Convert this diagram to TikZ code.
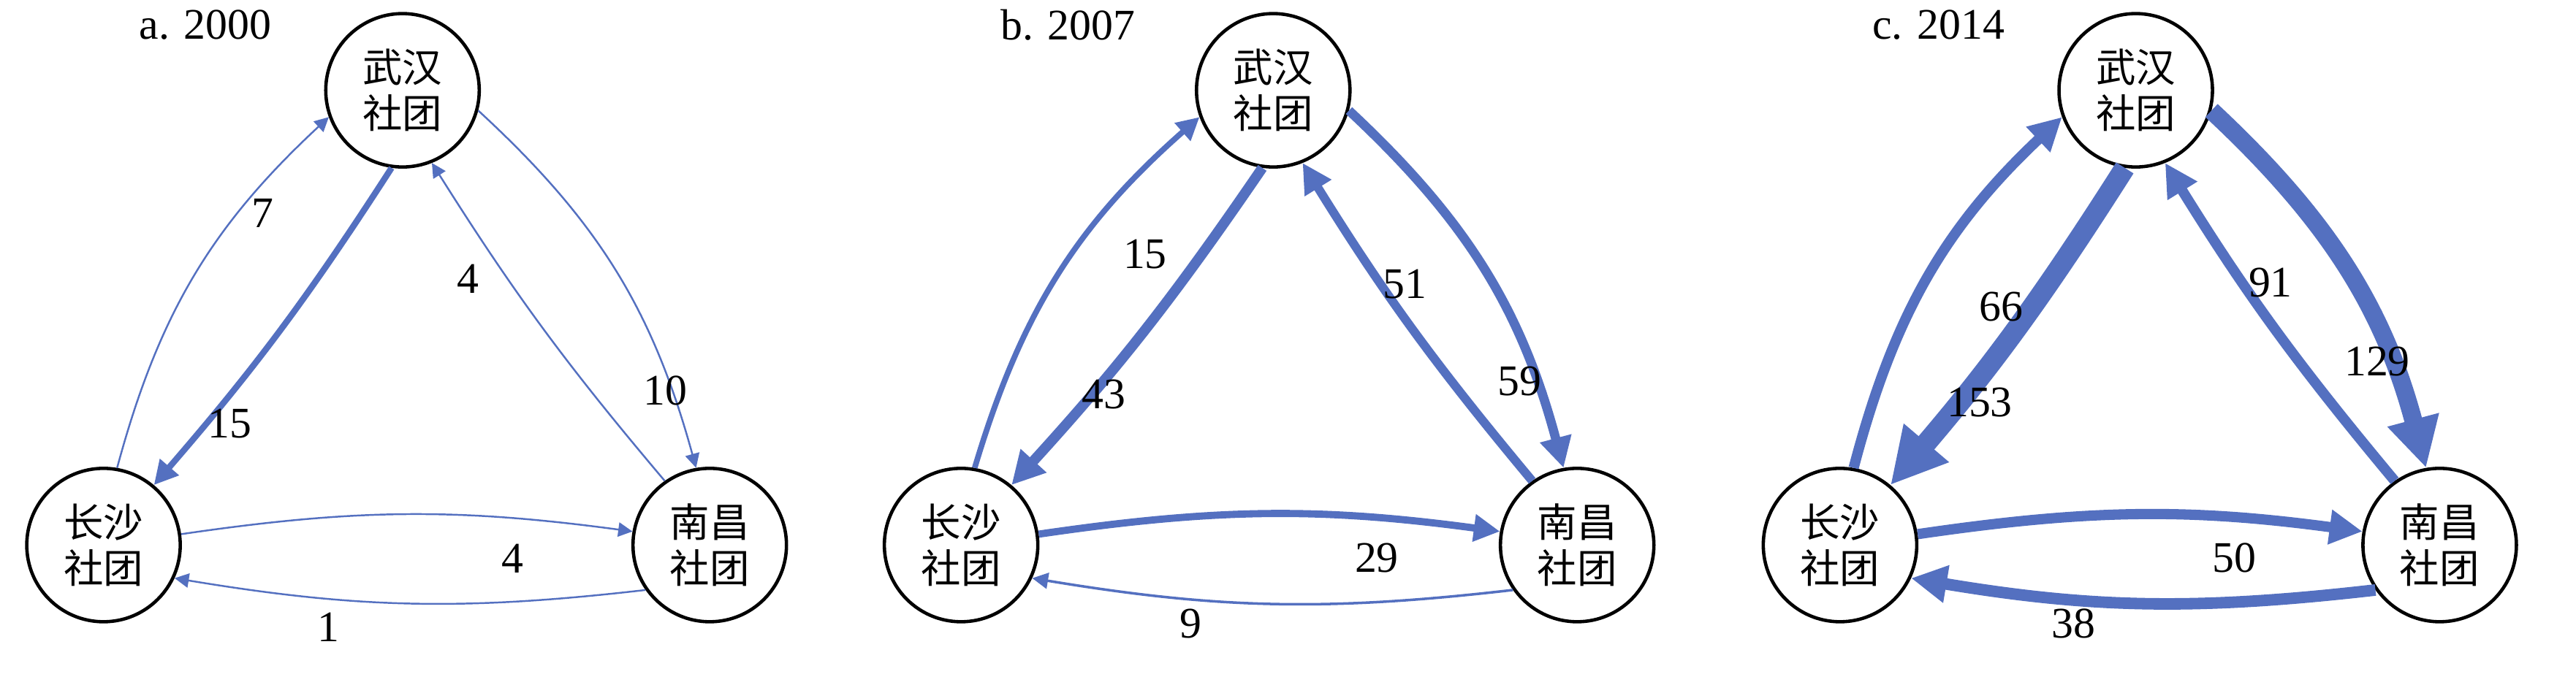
\documentclass[tikz,border=0pt]{standalone}
\usepackage{fontspec}
\setmainfont{Liberation Serif}
\newfontfamily\cjk{Noto Sans CJK SC}
\usetikzlibrary{arrows.meta}
\definecolor{eb}{HTML}{5470C0}
\begin{document}
\begin{tikzpicture}[x=0.02248cm,y=-0.02248cm,
  city/.style={circle,draw,line width=1.3pt,minimum size=2.1cm,inner sep=0pt,align=center,font=\cjk\fontsize{15.5}{18}\selectfont},
  fl/.style={draw=eb,line width=#1,-{Triangle[length=4pt 2.2,width=4pt 2.2]}},
  lab/.style={font=\fontsize{17}{19}\selectfont},
  ttl/.style={font=\fontsize{17}{19}\selectfont}]
\useasboundingbox (0,0) rectangle (1568,417);
% panel a
\node[ttl] (ta) at (125,15) {a. 2000};
\node[city] (wa) at (245,55) {武汉\\社团};
\node[city] (ca) at (63,332) {长沙\\社团};
\node[city] (na) at (432,332) {南昌\\社团};
\draw[fl=0.7pt] (ca.80) to[bend left=16] (wa.200);
\draw[fl=2.4pt] (wa.262) to[bend left=4] (ca.50);
\draw[fl=0.7pt] (na.125) to[bend left=4] (wa.292);
\draw[fl=0.7pt] (wa.-15) to[bend left=16] (na.100);
\draw[fl=0.7pt] (ca.8) to[bend left=8] (na.170);
\draw[fl=0.7pt] (na.-145) to[bend left=8] (ca.-25);
\node[lab] (la1) at (160,130) {7};
\node[lab] (la2) at (140,258) {15};
\node[lab] (la3) at (285,170) {4};
\node[lab] (la4) at (405,238) {10};
\node[lab] (la5) at (312,340) {4};
\node[lab] (la6) at (200,382) {1};
% panel b
\node[ttl] (tb) at (650,15) {b. 2007};
\node[city] (wb) at (775,55) {武汉\\社团};
\node[city] (cb) at (585,332) {长沙\\社团};
\node[city] (nb) at (960,332) {南昌\\社团};
\draw[fl=2.2pt] (cb.80) to[bend left=16] (wb.200);
\draw[fl=4pt] (wb.262) to[bend left=4] (cb.50);
\draw[fl=3.4pt] (nb.125) to[bend left=4] (wb.292);
\draw[fl=3.6pt] (wb.-15) to[bend left=16] (nb.100);
\draw[fl=2.8pt] (cb.8) to[bend left=8] (nb.170);
\draw[fl=1pt] (nb.-145) to[bend left=8] (cb.-25);
\node[lab] (lb1) at (697,155) {15};
\node[lab] (lb2) at (672,240) {43};
\node[lab] (lb3) at (855,173) {51};
\node[lab] (lb4) at (925,232) {59};
\node[lab] (lb5) at (838,340) {29};
\node[lab] (lb6) at (725,380) {9};
% panel c
\node[ttl] (tc) at (1180,15) {c. 2014};
\node[city] (wc) at (1300,55) {武汉\\社团};
\node[city] (cc) at (1120,332) {长沙\\社团};
\node[city] (nc) at (1485,332) {南昌\\社团};
\draw[fl=4pt] (cc.80) to[bend left=16] (wc.200);
\draw[fl=8pt] (wc.262) to[bend left=4] (cc.50);
\draw[fl=4pt] (nc.125) to[bend left=4] (wc.292);
\draw[fl=7pt] (wc.-15) to[bend left=16] (nc.100);
\draw[fl=4pt] (cc.8) to[bend left=8] (nc.170);
\draw[fl=4.5pt] (nc.-145) to[bend left=8] (cc.-25);
\node[lab] (lc1) at (1218,187) {66};
\node[lab] (lc2) at (1205,245) {153};
\node[lab] (lc3) at (1382,172) {91};
\node[lab] (lc4) at (1447,220) {129};
\node[lab] (lc5) at (1360,340) {50};
\node[lab] (lc6) at (1262,380) {38};
\end{tikzpicture}
\end{document}
